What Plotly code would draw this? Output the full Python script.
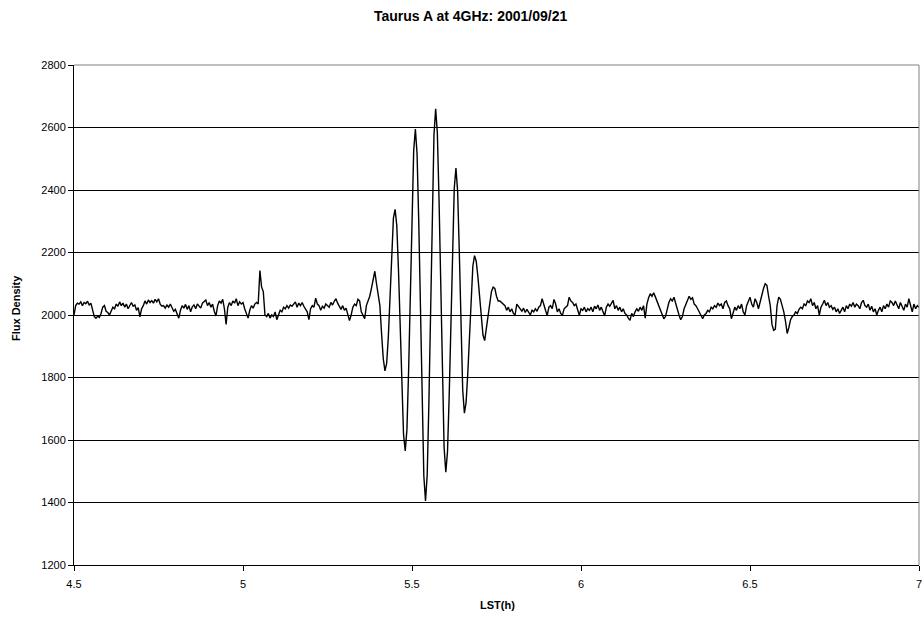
import numpy as np
import plotly.graph_objects as go

# ---- data ----
LST_START = 4.5
LST_STEP = 0.005

flux_before = [
    2000, 2030, 2038, 2035, 2042, 2030, 2040, 2036, 2044, 2032,
    2038, 2020, 1995, 1990, 1996, 1992, 2005, 2025, 2030, 2012,
    2008, 2000, 2015, 2025, 2020, 2035, 2028, 2042, 2030, 2038,
    2025, 2035, 2020, 2030, 2040, 2028, 2032, 2015, 2024, 1994,
    2020, 2030, 2045, 2035, 2048, 2040, 2046, 2038, 2050, 2042,
    2052, 2035, 2028, 2030, 2022, 2032, 2025, 2035, 2020, 2012,
    2018, 2005, 1990, 2015, 2030, 2022, 2034, 2018, 2030, 2010,
    2026, 2032, 2020, 2035, 2028, 2022, 2038, 2042, 2048, 2030,
    2040, 2025, 2035, 2012, 1997, 2030, 2045, 2038, 2050, 2020,
    1970, 2025, 2040, 2030, 2045, 2038, 2052, 2030, 2042, 2035,
    2040, 2020, 2005, 1990, 2015, 2030, 2022, 2035, 2040, 2035,
    2142, 2090, 2075, 2000, 1995, 2005, 1990, 2000, 1995, 2010,
    1985, 2000, 2015, 2010, 2025, 2020, 2030, 2022, 2032, 2028,
    2035, 2042, 2025, 2038, 2030, 2040, 2028, 2020, 2010, 1985,
    2020, 2030, 2025, 2054, 2035, 2030, 2015, 2028, 2022, 2035,
    2030, 2025, 2040, 2032, 2044, 2052, 2038, 2025, 2018, 2030,
    2015, 2022, 2005, 1982, 2000, 2025, 2035, 2030, 2050, 2045,
    2010, 1998, 1988, 2030, 2045, 2060, 2085, 2110,
]

flux_fringe = [
    2140, 2100, 2060, 2030, 1940, 1860, 1821, 1845, 1930, 2070,
    2210, 2310, 2338, 2286, 2145, 1952, 1758, 1617, 1565, 1634,
    1823, 2080, 2338, 2526, 2595, 2515, 2298, 2000, 1703, 1485,
    1405, 1489, 1719, 2033, 2346, 2576, 2660, 2582, 2369, 2079,
    1788, 1575, 1497, 1562, 1740, 1984, 2227, 2405, 2470, 2396,
    2200, 1957, 1761, 1686, 1720, 1812, 1938, 2064, 2156, 2190,
    2172, 2122, 2054, 1986, 1936, 1918, 1960, 2000, 2040, 2075,
    2089,
]

flux_after = [
    2085, 2060, 2045, 2045, 2040, 2038, 2030, 2015, 2025, 2010,
    2020, 2005, 2000, 2035, 2028, 2020, 2012, 2022, 2008, 2018,
    2010, 2000, 2015, 2010, 2020, 2012, 2025, 2030, 2052, 2030,
    2015, 1998, 2025, 2030, 2020, 2050, 2035, 2010, 2020, 2005,
    1999, 2020, 2025, 2030, 2057, 2045, 2040, 2030, 2035, 2020,
    1999, 2020, 2015, 2025, 2010, 2020, 2015, 2025, 2010, 2028,
    2020, 2032, 2015, 2025, 2008, 1997, 2025, 2035, 2028, 2040,
    2047, 2020, 2030, 2015, 2025, 2010, 2020, 2005, 2000, 1990,
    1983, 2005, 1995, 2010, 2020, 2012, 2025, 2015, 2030, 1990,
    2035, 2055, 2068, 2060, 2071, 2058, 2045, 2030, 2015, 2000,
    1988, 1995, 2020, 2040, 2052, 2045, 2057, 2035, 2015, 2000,
    1985, 1995, 2020, 2035, 2045, 2060, 2050, 2055, 2035, 2030,
    2020, 2010, 2000, 1988, 2000, 2005, 2015, 2010, 2025, 2020,
    2030, 2025, 2038, 2030, 2035, 2020, 2040, 2045, 2030, 2020,
    1988, 2010, 2025, 2015, 2030, 2020, 2035, 2010, 2000, 2030,
    2045, 2057, 2035, 2025, 2052, 2040, 2020, 2045, 2060, 2085,
    2100, 2095, 2060, 2030, 1970, 1951, 1955, 2030, 2057, 2050,
    2030, 2010, 1980, 1941, 1960, 1985, 1995, 2000, 2010, 2005,
    2018, 2025, 2020, 2035, 2030, 2045, 2040, 2052, 2030, 2040,
    2020, 2030, 2000, 2025, 2035, 2047, 2030, 2040, 2025, 2030,
    2018, 2025, 2010, 2020, 2005, 2015, 2025, 2010, 2030, 2020,
    2035, 2028, 2040, 2025, 2035, 2030, 2020, 2040, 2047, 2030,
    2025, 2035, 2015, 2028, 2010, 2020, 2000, 2015, 2025, 2010,
    2030, 2020, 2035, 2025, 2045, 2040, 2030, 2045, 2035, 2020,
    2040, 2030, 2015, 2035, 2025, 2052, 2030, 2010, 2035, 2020,
    2030, 2025,
]

x_ticks = [4.5, 5.0, 5.5, 6.0, 6.5, 7.0]
x_tick_labels = ["4.5", "5", "5.5", "6", "6.5", "7"]
y_ticks = [1200, 1400, 1600, 1800, 2000, 2200, 2400, 2600, 2800]

title_text = "Taurus A at 4GHz: 2001/09/21"
x_title = "LST(h)"
y_title = "Flux Density"

# ---- build ----
flux = np.array(flux_before + flux_fringe + flux_after, dtype=float)
lst = np.round(LST_START + LST_STEP * np.arange(len(flux)), 3)

W, H = 922, 618
L, R, T, B = 74, 3, 65, 53
pw = W - L - R
ph = H - T - B

FONT = "Arial, Liberation Sans, sans-serif"

fig = go.Figure()
fig.add_trace(go.Scatter(
    x=lst, y=flux, mode="lines",
    line=dict(color="#000000", width=1.4),
    hoverinfo="x+y", showlegend=False,
))

fig.update_layout(
    width=W, height=H,
    margin=dict(l=L, r=R, t=T, b=B, pad=0, autoexpand=False),
    paper_bgcolor="white", plot_bgcolor="white",
    font=dict(family=FONT, size=11, color="#000000"),
    showlegend=False,
    xaxis=dict(
        range=[4.5, 7.0], tickmode="array", tickvals=x_ticks, ticktext=x_tick_labels,
        showgrid=False, zeroline=False, automargin=False,
        showline=True, linecolor="#000000", linewidth=1,
        ticks="outside", ticklen=5, tickwidth=1, tickcolor="#000000",
        ticklabelstandoff=4, ticklabeloverflow="allow",
        tickfont=dict(family=FONT, size=11, color="#000000"),
    ),
    yaxis=dict(
        range=[1200, 2800], tickmode="array", tickvals=y_ticks,
        showgrid=True, gridcolor="#000000", gridwidth=1, zeroline=False, automargin=False,
        showline=True, linecolor="#000000", linewidth=1,
        ticks="outside", ticklen=5, tickwidth=1, tickcolor="#000000",
        tickfont=dict(family=FONT, size=11, color="#000000"),
    ),
    shapes=[
        dict(type="line", xref="paper", yref="paper", x0=0, x1=1, y0=1, y1=1,
             line=dict(color="#808080", width=1), layer="above"),
        dict(type="line", xref="paper", yref="paper", x0=1, x1=1, y0=0, y1=1,
             line=dict(color="#808080", width=1), layer="above"),
    ],
    annotations=[
        dict(text="<b>%s</b>" % title_text, xref="paper", yref="paper",
             x=(470 - L) / pw, y=1 + (T - 16) / ph, xanchor="center", yanchor="middle",
             showarrow=False, font=dict(family=FONT, size=14, color="#000000")),
        dict(text="<b>%s</b>" % x_title, xref="paper", yref="paper",
             x=(497 - L) / pw, y=-(605 - (H - B)) / ph, xanchor="center", yanchor="middle",
             showarrow=False, font=dict(family=FONT, size=11, color="#000000")),
        dict(text="<b>%s</b>" % y_title, xref="paper", yref="paper", textangle=-90,
             x=(16 - L) / pw, y=1 - (308 - T) / ph, xanchor="center", yanchor="middle",
             showarrow=False, font=dict(family=FONT, size=11, color="#000000")),
    ],
)

fig.write_html("out.html")
